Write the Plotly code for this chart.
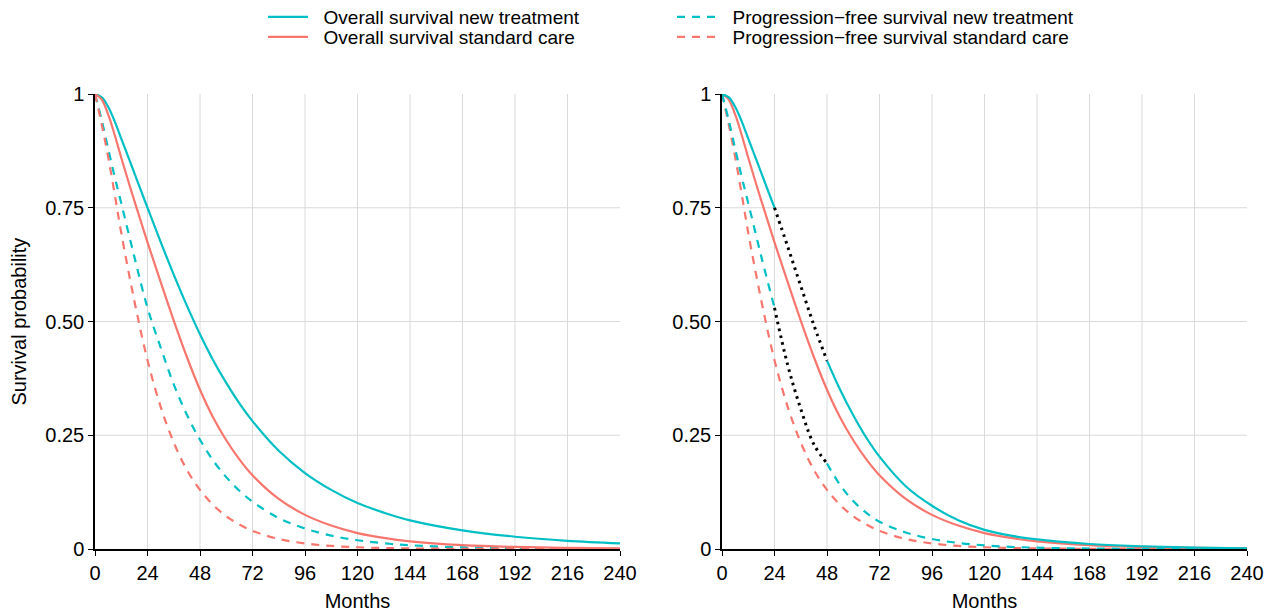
import plotly.graph_objects as go
from plotly.subplots import make_subplots

# ---------------- data ----------------
months = [0, 3, 6, 9, 12, 18, 24, 30, 36, 42, 48, 54, 60, 66, 72, 84, 96, 108, 120, 132, 144, 168, 192, 216, 240]

os_new = [1, 0.993, 0.972, 0.94, 0.902, 0.826, 0.75, 0.675, 0.603, 0.535, 0.472, 0.415, 0.365, 0.32, 0.281,
          0.216, 0.167, 0.13, 0.101, 0.08, 0.063, 0.041, 0.027, 0.018, 0.0125]
os_std = [1, 0.988, 0.955, 0.91, 0.86, 0.765, 0.674, 0.587, 0.502, 0.422, 0.35, 0.289, 0.239, 0.197, 0.162,
          0.11, 0.075, 0.0515, 0.035, 0.0243, 0.0168, 0.0085, 0.0045, 0.0025, 0.0014]
pfs_new = [1, 0.944, 0.88, 0.818, 0.76, 0.642, 0.53, 0.443, 0.362, 0.295, 0.24, 0.1945, 0.158, 0.128, 0.104,
           0.068, 0.045, 0.0294, 0.0193, 0.0127, 0.0083, 0.0036, 0.0016, 0.0007, 0.0003]
pfs_std = [1, 0.935, 0.862, 0.78, 0.695, 0.545, 0.415, 0.313, 0.234, 0.174, 0.13, 0.097, 0.072, 0.054, 0.04,
           0.022, 0.0122, 0.0068, 0.0038, 0.0021, 0.0012, 0.0004, 0.0001, 0.00004, 0.00001]

# right panel: new-treatment curves with a 24-48 month gap bridged by a dotted line
os_new_right = [1, 0.993, 0.972, 0.94, 0.902, 0.826, 0.75, None, None, None, 0.414, 0.35, 0.294, 0.2445, 0.203,
                0.138, 0.095, 0.063, 0.042, 0.0293, 0.021, 0.011, 0.006, 0.003, 0.0015]
pfs_new_right = [1, 0.944, 0.88, 0.818, 0.76, 0.642, 0.53, None, None, None, 0.188, 0.1407, 0.1053, 0.0794, 0.06,
                 0.0363, 0.022, 0.0133, 0.008, 0.0048, 0.0029, 0.001, 0.0004, 0.00015, 0.00005]
bridge_months = [24, 30, 36, 42, 48]
os_bridge = [0.75, 0.665, 0.578, 0.492, 0.414]
pfs_bridge = [0.53, 0.405, 0.308, 0.23, 0.188]

x_ticks = [0, 24, 48, 72, 96, 120, 144, 168, 192, 216, 240]
y_ticks = [0, 0.25, 0.5, 0.75, 1]
y_ticktext = ["0", "0.25", "0.50", "0.75", "1"]
x_grid = [24, 48, 72, 96, 120, 144, 168, 192, 216]
y_grid = [0.25, 0.5, 0.75]

labels = ["Overall survival new treatment", "Progression\u2212free survival new treatment",
          "Overall survival standard care", "Progression\u2212free survival standard care"]

TEAL = "#00BFC4"
RED = "#F8766D"
LW = 2.2
DASH = "8px,7px"
FONT = "Liberation Sans, Arial, sans-serif"
PAD = "\u00a0\u00a0"
W, H = 1275, 608  # page adds an 8px body margin
ML, MR, MT, MB = 87, 36, 86, 67
PW, PH = W - ML - MR, H - MT - MB

fig = make_subplots(rows=1, cols=2, horizontal_spacing=102 / PW)

def add(col, y, color, dash, name, show, group, leg):
    fig.add_trace(go.Scatter(x=months, y=y, mode="lines", name=PAD + name, legendgroup=group,
                             showlegend=show, connectgaps=False, legend=leg,
                             line=dict(color=color, width=LW, dash=dash, shape="spline", smoothing=1.0)),
                  row=1, col=col)

# left panel: first legend row = new treatment, second legend row = standard care
add(1, os_new, TEAL, "solid", labels[0], True, "a", "legend")
add(1, pfs_new, TEAL, DASH, labels[1], True, "b", "legend")
add(1, os_std, RED, "solid", labels[2], True, "c", "legend2")
add(1, pfs_std, RED, DASH, labels[3], True, "d", "legend2")

# right panel
add(2, os_std, RED, "solid", labels[2], False, "c", "legend2")
add(2, pfs_std, RED, DASH, labels[3], False, "d", "legend2")
add(2, os_new_right, TEAL, "solid", labels[0], False, "a", "legend")
add(2, pfs_new_right, TEAL, DASH, labels[1], False, "b", "legend")
for yb in (os_bridge, pfs_bridge):
    fig.add_trace(go.Scatter(x=bridge_months, y=yb, mode="lines", showlegend=False, hoverinfo="skip",
                             line=dict(color="black", width=3, dash="2.6px,4.4px", shape="spline", smoothing=1.0)),
                  row=1, col=2)

# gridlines as shapes (none at the range edges, as in the reference)
for c in (1, 2):
    xref = "x" if c == 1 else "x2"
    yref = "y" if c == 1 else "y2"
    for gx in x_grid:
        fig.add_shape(type="line", xref=xref, yref=f"{yref} domain", x0=gx, x1=gx, y0=0, y1=1,
                      line=dict(color="#DADADA", width=1), layer="below")
    for gy in y_grid:
        fig.add_shape(type="line", xref=f"{xref} domain", yref=yref, x0=0, x1=1, y0=gy, y1=gy,
                      line=dict(color="#DADADA", width=1), layer="below")

axis_common = dict(showgrid=False, zeroline=False, showline=True, linecolor="black", linewidth=1.5,
                   ticks="outside", ticklen=5, tickwidth=1, tickcolor="black", automargin=False,
                   tickfont=dict(size=20, color="black", family=FONT))
for c in (1, 2):
    fig.update_xaxes(range=[0, 240], tickvals=x_ticks, **axis_common,
                     title=dict(text="Months", font=dict(size=20, color="black", family=FONT), standoff=11),
                     row=1, col=c)
    fig.update_yaxes(range=[0, 1], tickvals=y_ticks, ticktext=y_ticktext, **axis_common, row=1, col=c)

# y-axis title placed explicitly
fig.add_annotation(text="Survival probability", textangle=-90, xref="paper", yref="paper",
                   x=(10 - ML) / PW, y=0.5, xanchor="center", yanchor="middle", showarrow=False,
                   font=dict(size=20, color="black", family=FONT))

leg_common = dict(orientation="h", x=255 / W, xanchor="left", xref="container", yanchor="top", yref="paper",
                  entrywidth=354, entrywidthmode="pixels", font=dict(size=19, color="black", family=FONT),
                  tracegroupgap=0, itemwidth=40, bgcolor="rgba(0,0,0,0)")

fig.update_layout(
    width=W, height=H,
    margin=dict(l=ML, r=MR, t=MT, b=MB, autoexpand=False),
    paper_bgcolor="white", plot_bgcolor="white",
    font=dict(family=FONT, size=19, color="black"),
    legend=dict(y=1 + (MT + 10) / PH, **leg_common),
    legend2=dict(y=1 + (MT - 10) / PH, **leg_common),
)

fig.write_html("out.html")
